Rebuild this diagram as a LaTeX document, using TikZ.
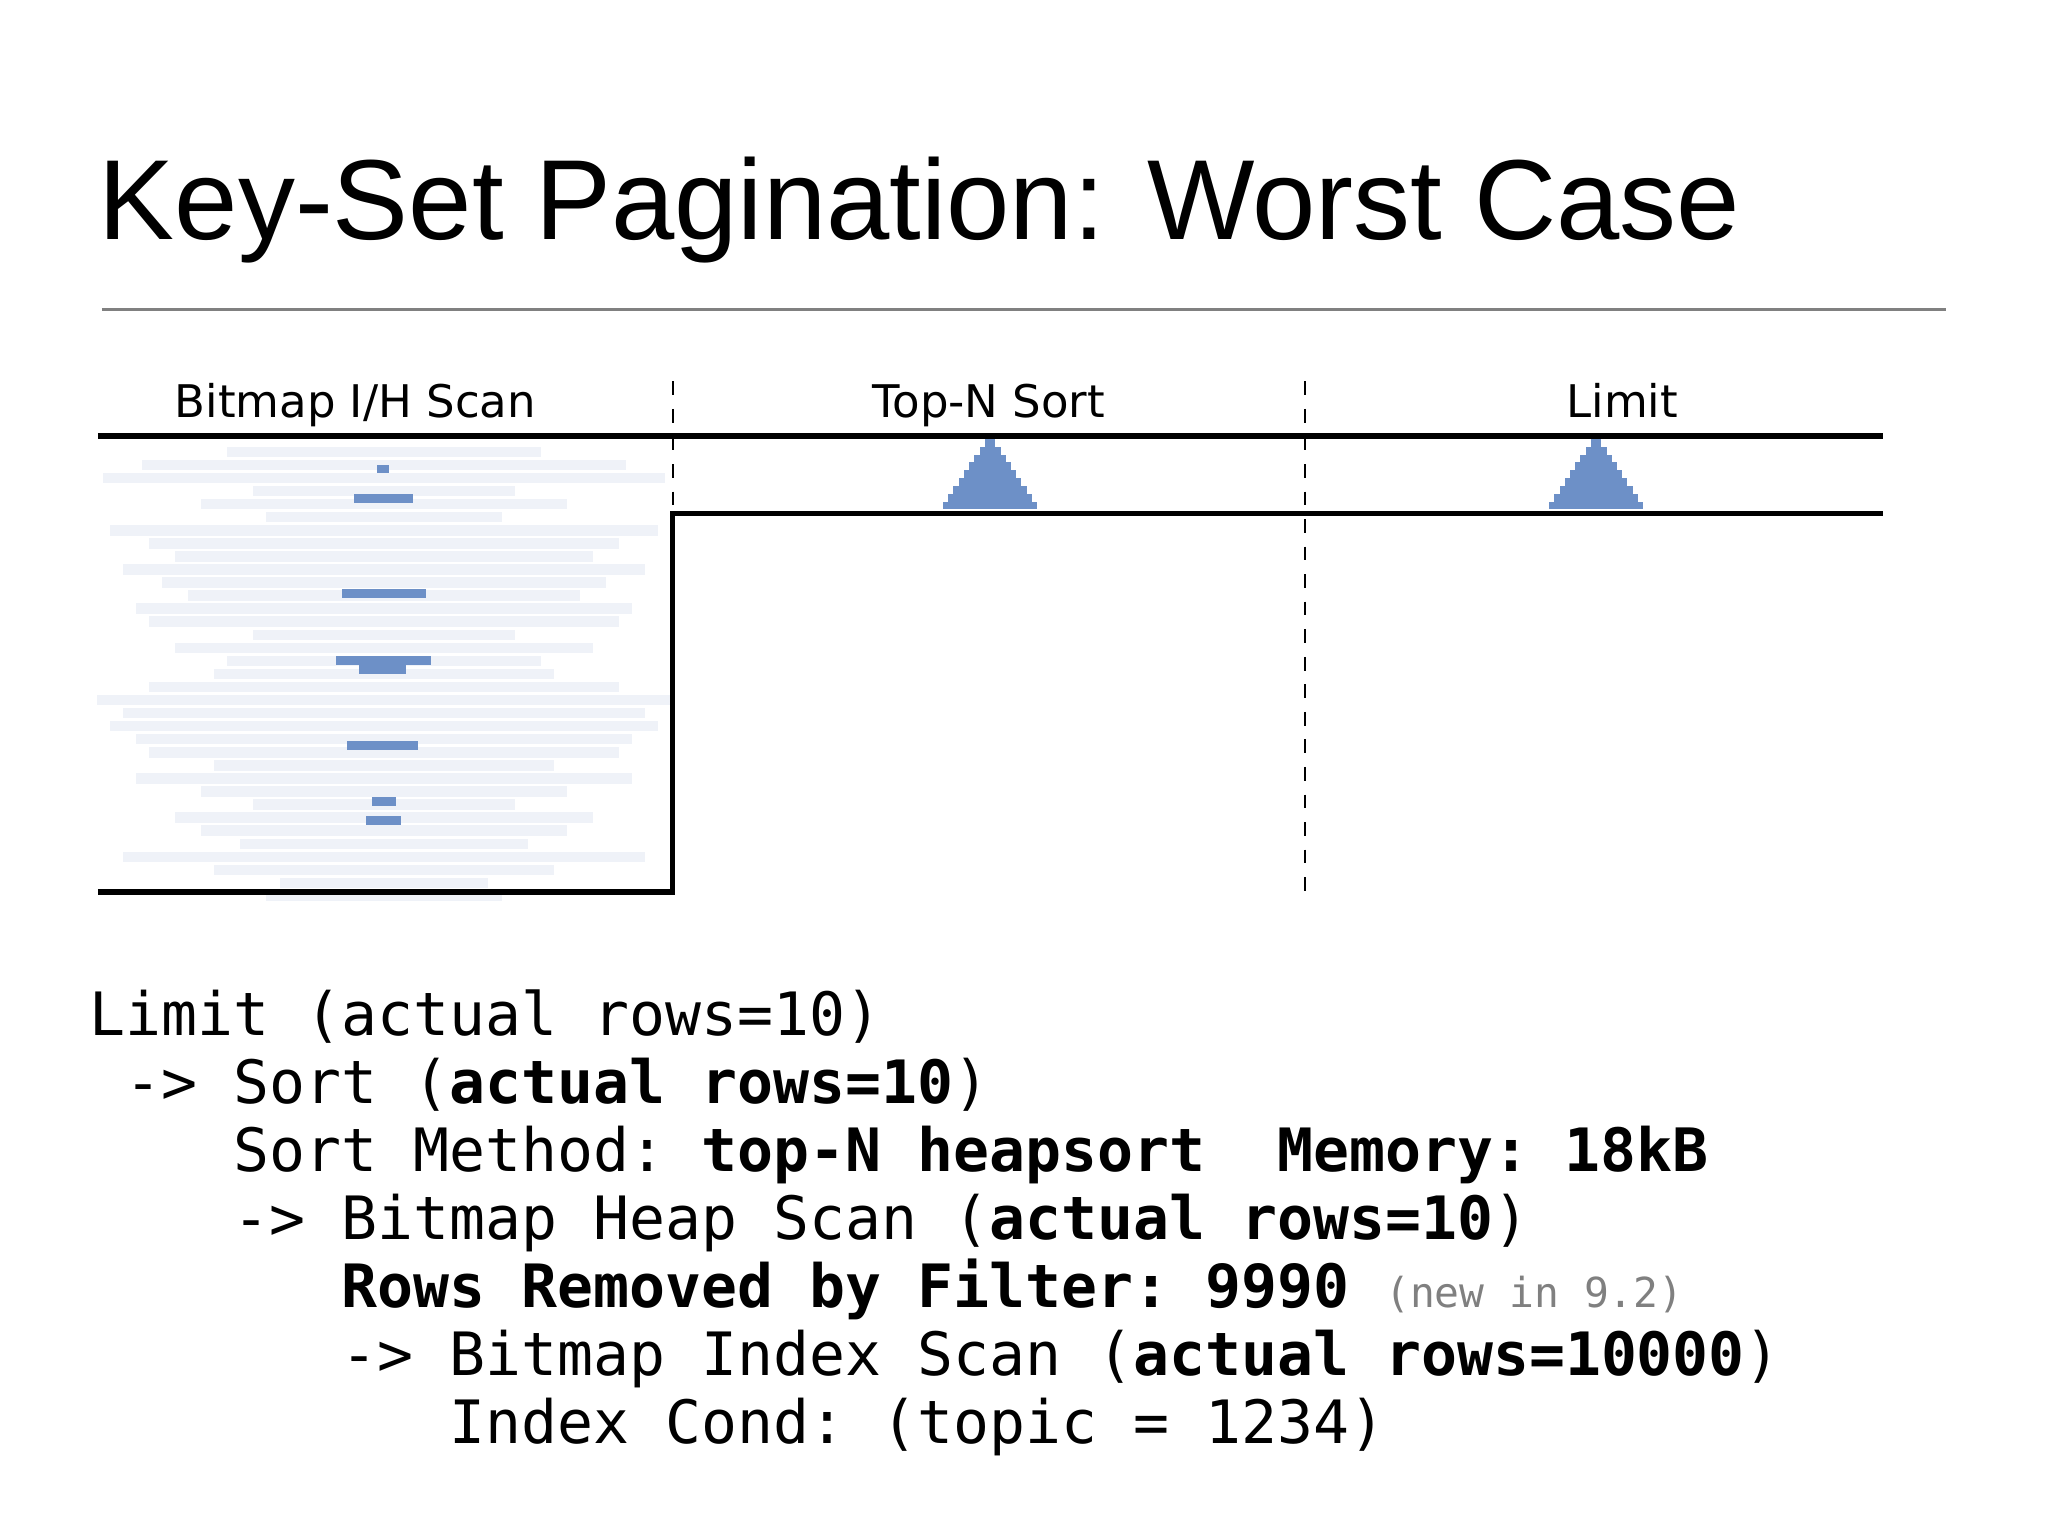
\documentclass[tikz,border=0pt]{standalone}
\usepackage{fontspec}
\setmainfont{Liberation Sans}
\setmonofont{DejaVu Sans Mono}
\newfontfamily\headfont{DejaVu Sans}
\usetikzlibrary{positioning}
\definecolor{barblue}{HTML}{6D90C7}
\definecolor{faint}{HTML}{EFF2F8}
\tikzset{
    head/.style={font=\headfont\fontsize{9.8pt}{12pt}\selectfont, anchor=base},
    code/.style={font=\ttfamily\fontsize{13.02pt}{15pt}\selectfont, anchor=base west, inner sep=0pt},
    phase/.style={line width=1.2pt},
    sep/.style={dashed, line width=0.5pt}
}
\newcommand{\ind}[1]{\hphantom{\ttfamily#1}}
\begin{document}
\begin{tikzpicture}
    \useasboundingbox (0,0) rectangle (15.68,-11.76);
    \node[anchor=base west, inner sep=0pt, font=\fontsize{24.8pt}{30pt}\selectfont] (title) at (0.75,-1.83) {Key-Set Pagination: Worst Case};
    \draw[gray, line width=0.6pt] (0.78,-2.37) -- (14.90,-2.37);
    % faint rows of the bitmap scan
    \foreach \y/\w [count=\k] in {3.42/1.2, 3.52/1.85, 3.62/2.15, 3.72/1.0, 3.82/1.4, 3.92/0.9, 4.02/2.1, 4.12/1.8, 4.22/1.6, 4.32/2.0, 4.42/1.7, 4.52/1.5, 4.62/1.9, 4.72/1.8, 4.82/1.0, 4.92/1.6, 5.02/1.2, 5.12/1.3, 5.22/1.8, 5.32/2.2, 5.42/2.0, 5.52/2.1, 5.62/1.9, 5.72/1.8, 5.82/1.3, 5.92/1.9, 6.02/1.4, 6.12/1.0, 6.22/1.6, 6.32/1.4, 6.42/1.1, 6.52/2.0, 6.62/1.3, 6.72/0.8, 6.82/0.9}
        \fill[faint] (2.94-\w,-\y) rectangle (2.94+\w,-\y-0.08);
    \foreach \x/\y/\xx/\yy in {2.89/3.56/2.98/3.62, 2.71/3.78/3.16/3.85, 2.62/4.51/3.26/4.58, 2.57/5.02/3.30/5.09, 2.75/5.09/3.11/5.16, 2.66/5.67/3.20/5.74, 2.85/6.10/3.03/6.17, 2.80/6.25/3.07/6.32}
        \fill[barblue] (\x,-\y) rectangle (\xx,-\yy);
    % phases
    \node[head] (scan) at (2.72,-3.20) {Bitmap I/H Scan};
    \node[head] (sort) at (7.57,-3.20) {Top-N Sort};
    \node[head] (limit) at (12.42,-3.20) {Limit};
    \draw[phase] (0.75,-3.34) -- (14.42,-3.34);
    \draw[phase] (0.75,-6.83) -- (5.15,-6.83) -- (5.15,-3.93) -- (14.42,-3.93);
    \draw[sep] (5.15,-2.92) -- (5.15,-6.90);
    \draw[sep] (9.99,-2.92) -- (9.99,-6.90);
    \foreach \c in {7.58,12.22}
        \foreach \i in {0,...,8}
            \fill[barblue] (\c-0.04-0.04*\i,-3.36-0.06*\i) rectangle (\c+0.04+0.04*\i,-3.42-0.06*\i);
    % plan output
    \node[code] (l1) at (0.68,-7.93) {Limit (actual rows=10)};
    \node[code] (l2) at (0.68,-8.45) {\ind{x}-> Sort (\textbf{actual rows=10})};
    \node[code] (l3) at (0.68,-8.97) {\ind{xxxx}Sort Method: \textbf{top-N heapsort}\ind{xx}\textbf{Memory: 18kB}};
    \node[code] (l4) at (0.68,-9.49) {\ind{xxxx}-> Bitmap Heap Scan (\textbf{actual rows=10})};
    \node[code] (l5) at (0.68,-10.01) {\ind{xxxxxxx}\textbf{Rows Removed by Filter: 9990} {\fontsize{9pt}{10pt}\selectfont\color{gray}(new in 9.2)}};
    \node[code] (l6) at (0.68,-10.53) {\ind{xxxxxxx}-> Bitmap Index Scan (\textbf{actual rows=10000})};
    \node[code] (l7) at (0.68,-11.05) {\ind{xxxxxxxxxx}Index Cond: (topic = 1234)};
\end{tikzpicture}
\end{document}
